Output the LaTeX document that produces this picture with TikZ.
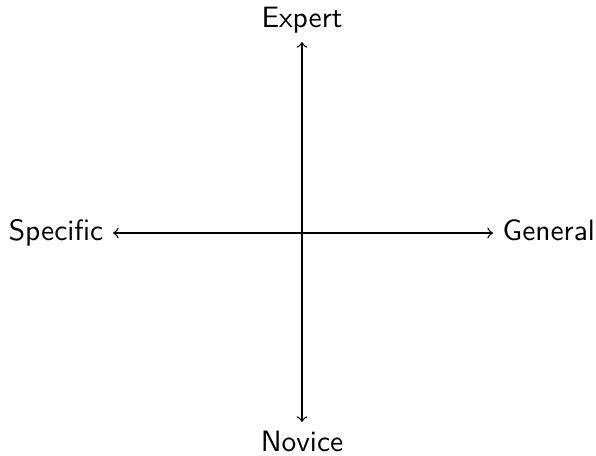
\documentclass[tikz,border=0pt]{standalone}
\renewcommand{\familydefault}{\sfdefault}
\begin{document}
\begin{tikzpicture}[x=0.36pt,y=-0.36pt,
  lbl/.style={font=\sffamily\fontsize{10.6}{12}\selectfont, text height=1.6ex, text depth=0.4ex, inner sep=3.3pt},
  axis/.style={<->, line width=0.5pt}]
\useasboundingbox (0,0) rectangle (596,455);
\node[lbl, anchor=east] (spec) at (113,233) {Specific};
\node[lbl, anchor=west] (gen) at (493,233) {General};
\node[lbl, anchor=south] (exp) at (302,42) {Expert};
\node[lbl, anchor=north] (nov) at (302,422) {Novice};
\draw[axis] (spec) -- (gen);
\draw[axis] (exp) -- (nov);
\end{tikzpicture}
\end{document}
